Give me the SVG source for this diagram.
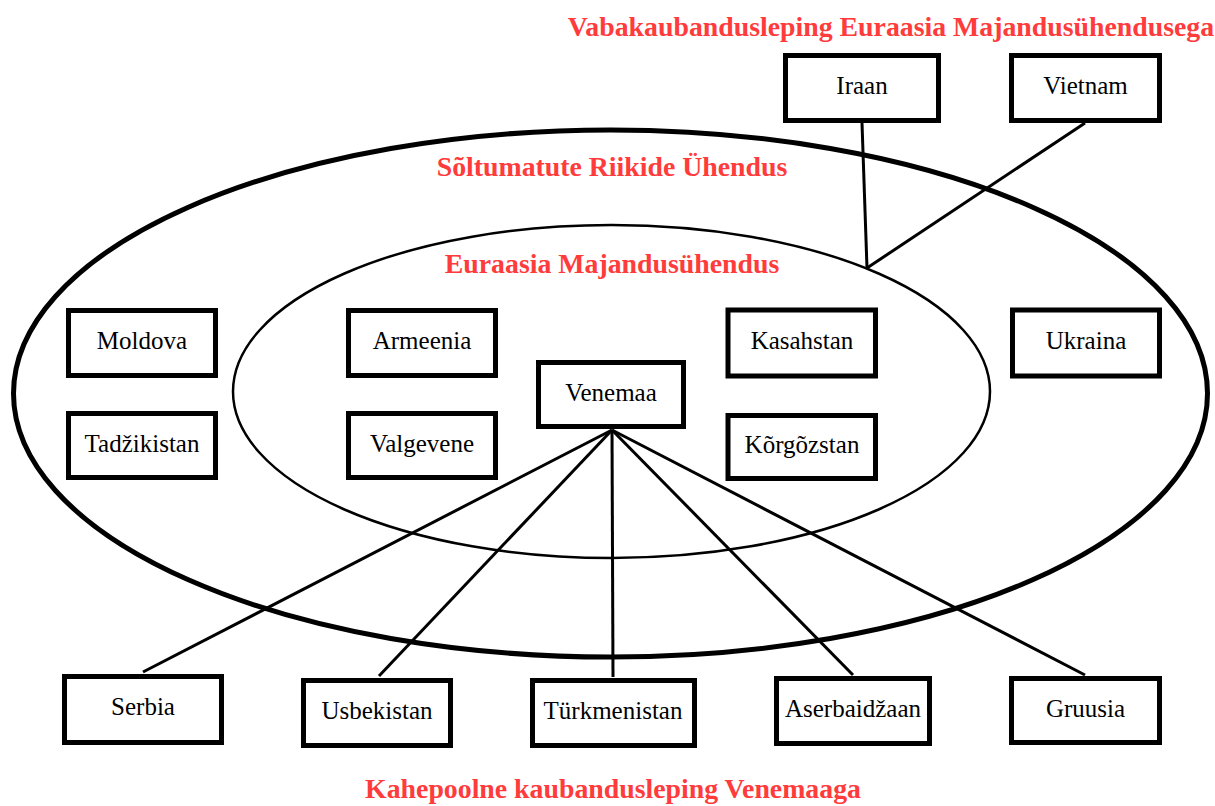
<svg xmlns="http://www.w3.org/2000/svg" width="1215" height="806" viewBox="0 0 1215 806">
<style>
.box{fill:#fff;stroke:#000;stroke-width:5}
.lbl{font-family:"Liberation Serif","Times New Roman",serif;font-size:25px;fill:#000;text-anchor:middle}
.ttl{font-family:"Liberation Serif","Times New Roman",serif;font-size:27.8px;font-weight:bold;fill:#ff3b3b;text-anchor:middle}
.con{stroke:#000;stroke-width:3;fill:none}
</style>
<rect width="1215" height="806" fill="#fff"/>
<g id="regions">
<ellipse id="cis" cx="610.5" cy="393.5" rx="597" ry="263.5" fill="none" stroke="#000" stroke-width="5"/>
<ellipse id="eeu" cx="611.5" cy="391.5" rx="378.5" ry="166.5" fill="none" stroke="#000" stroke-width="2.5"/>
</g>
<g id="connectors">
<line class="con" x1="862" y1="123" x2="867" y2="268"/>
<line class="con" x1="1085" y1="123" x2="867" y2="268"/>
<line class="con" x1="612" y1="430" x2="143" y2="672"/>
<line class="con" x1="612" y1="430" x2="379" y2="676"/>
<line class="con" x1="612" y1="430" x2="613" y2="677"/>
<line class="con" x1="612" y1="430" x2="853" y2="675"/>
<line class="con" x1="612" y1="430" x2="1085" y2="675"/>
</g>
<g id="titles">
<text class="ttl" x="891" y="36">Vabakaubandusleping Euraasia Majandusühendusega</text>
<text class="ttl" x="612" y="176">Sõltumatute Riikide Ühendus</text>
<text class="ttl" x="612" y="273">Euraasia Majandusühendus</text>
<text class="ttl" x="613" y="798">Kahepoolne kaubandusleping Venemaaga</text>
</g>
<g id="iraan"><rect class="box" x="785.5" y="55.5" width="153" height="65"/><text class="lbl" x="862" y="94">Iraan</text></g>
<g id="vietnam"><rect class="box" x="1011.5" y="55.5" width="148" height="65"/><text class="lbl" x="1085.5" y="94">Vietnam</text></g>
<g id="moldova"><rect class="box" x="68.5" y="310.5" width="147" height="65"/><text class="lbl" x="142" y="349">Moldova</text></g>
<g id="tadzikistan"><rect class="box" x="68.5" y="413.5" width="147" height="64"/><text class="lbl" x="142" y="452">Tadžikistan</text></g>
<g id="armeenia"><rect class="box" x="348.5" y="310.5" width="147" height="65"/><text class="lbl" x="422" y="349">Armeenia</text></g>
<g id="valgevene"><rect class="box" x="348.5" y="413.5" width="147" height="64"/><text class="lbl" x="422" y="452">Valgevene</text></g>
<g id="venemaa"><rect class="box" x="538.5" y="362.5" width="145" height="64"/><text class="lbl" x="611" y="401">Venemaa</text></g>
<g id="kasahstan"><rect class="box" x="728" y="310" width="147.5" height="66"/><text class="lbl" x="802" y="349">Kasahstan</text></g>
<g id="korgozstan"><rect class="box" x="728" y="415.5" width="147.5" height="63"/><text class="lbl" x="802" y="453">Kõrgõzstan</text></g>
<g id="ukraina"><rect class="box" x="1012.5" y="310" width="147" height="66"/><text class="lbl" x="1086" y="349">Ukraina</text></g>
<g id="serbia"><rect class="box" x="64.5" y="676.5" width="157" height="66"/><text class="lbl" x="143" y="715">Serbia</text></g>
<g id="usbekistan"><rect class="box" x="303.5" y="680.5" width="147" height="65"/><text class="lbl" x="377" y="719">Usbekistan</text></g>
<g id="turkmenistan"><rect class="box" x="532.5" y="680.5" width="162" height="65"/><text class="lbl" x="613" y="719">Türkmenistan</text></g>
<g id="aserbaidzaan"><rect class="box" x="776.5" y="678.5" width="153" height="65"/><text class="lbl" x="853" y="717">Aserbaidžaan</text></g>
<g id="gruusia"><rect class="box" x="1011.5" y="678.5" width="148" height="64"/><text class="lbl" x="1085.5" y="717">Gruusia</text></g>
</svg>
